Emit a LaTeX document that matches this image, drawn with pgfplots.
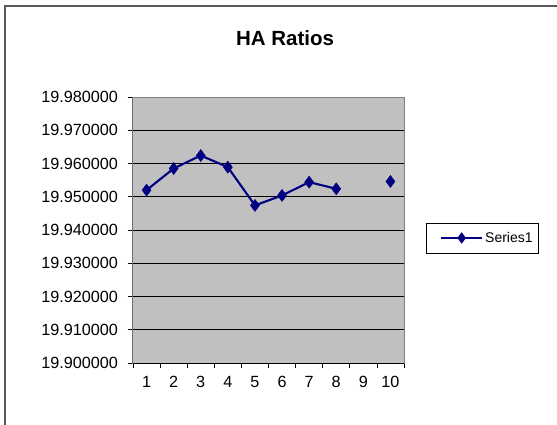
\documentclass[border=0pt]{standalone}
\usepackage{pgfplots}
\pgfplotsset{compat=1.18}
\usepackage{fontspec}
\setmainfont{Liberation Sans}
\definecolor{navyline}{HTML}{000080}
\definecolor{plotgray}{HTML}{C0C0C0}
\begin{document}
\begin{tikzpicture}[x=1pt,y=1pt]
\useasboundingbox (0,0) rectangle (557,-424);
\draw[black!65, line width=1.2pt] (5,-440) -- (5,-6) -- (580,-6);
\node[font=\bfseries\fontsize{20.5}{24}\selectfont] at (285,-38) {HA Ratios};
\draw[black, line width=0.7pt] (426,-223) rectangle (538,-253);
\begin{axis}[
  at={(133pt,-363pt)}, anchor=south west,
  scale only axis, width=271pt, height=266pt,
  xmin=0.5, xmax=10.5, ymin=19.90, ymax=19.98,
  axis background/.style={fill=plotgray},
  axis line style={draw=black!50, line width=1pt},
  xtick={1,2,3,4,5,6,7,8,9,10},
  major x tick style={draw=none},
  minor xtick={0.5,1.5,2.5,3.5,4.5,5.5,6.5,7.5,8.5,9.5,10.5},
  minor x tick style={black, line width=0.8pt},
  minor tick length=5pt,
  ytick={19.90,19.91,19.92,19.93,19.94,19.95,19.96,19.97,19.98},
  major y tick style={black, line width=0.8pt},
  major tick length=5pt,
  tick align=outside, tick pos=left,
  ymajorgrids, grid style={black, line width=0.8pt},
  /pgf/number format/assume math mode=true,
  yticklabel={\pgfmathprintnumber[fixed, fixed zerofill, precision=6, 1000 sep={}, assume math mode=true]{\tick}},
  ticklabel style={font=\fontsize{16.2}{19}\selectfont, black},
  xticklabel style={yshift=-5pt},
  yticklabel style={xshift=-6.5pt},
  unbounded coords=jump,
  legend style={at={(1.1328,0.47)}, anchor=west, draw=none, fill=none,
    font=\fontsize{14}{16}\selectfont, inner sep=0pt,
    legend cell align=left},
]
\addplot[navyline, line width=2.1pt, mark=diamond*, mark size=6pt,
  mark options={fill=navyline, draw=navyline, line width=0.5pt},
  legend image code/.code={
    \draw[draw=navyline, line width=2pt] (0pt,0pt) -- (41pt,0pt);
    \fill[navyline] (20.5pt,4pt) -- (23.5pt,0pt) -- (20.5pt,-4pt) -- (17.5pt,0pt) -- cycle;
  }]
  coordinates {
  (1,19.9520) (2,19.9585) (3,19.9624) (4,19.9589) (5,19.9474)
  (6,19.9504) (7,19.9544) (8,19.9524) (9,nan) (10,19.9546)
  };
\addlegendentry{Series1}
\draw[black, line width=1pt] (rel axis cs:0,0) -- (rel axis cs:0,1);
\draw[black, line width=1pt] (rel axis cs:0,0) -- (rel axis cs:1,0);
\end{axis}
\end{tikzpicture}
\end{document}
